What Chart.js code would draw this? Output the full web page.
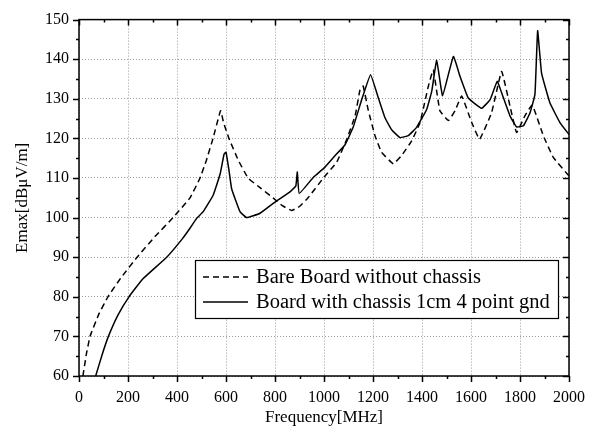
<!DOCTYPE html>
<html>
<head>
<meta charset="utf-8">
<script src="https://cdn.jsdelivr.net/npm/chart.js@4/dist/chart.umd.min.js"></script>
<style>
  html, body { margin: 0; padding: 0; background: #fff; }
  #wrap { width: 597px; height: 432px; }
</style>
</head>
<body>
<div id="wrap"><canvas id="chart" width="597" height="432"></canvas></div>
<script>
// Bare board without chassis (dashed)
const bareFreq = [16, 30, 45, 80, 118, 170, 237, 310, 384, 453, 494, 520, 547, 578, 590, 612, 650, 690, 740, 792, 830, 868, 900, 935, 1000, 1052, 1093, 1127, 1147, 1160, 1180, 1208, 1235, 1283, 1317, 1358, 1392, 1426, 1446, 1473, 1508, 1535, 1562, 1603, 1635, 1684, 1725, 1759, 1786, 1820, 1850, 1895, 1936, 2000];
const bareVals = [60, 65.5, 70, 75.5, 80, 84.7, 90, 95.2, 100, 105, 110, 114.5, 120, 127, 124, 120, 114.5, 110, 107.5, 105, 103, 101.8, 102.8, 105, 110.2, 114, 119.8, 125.7, 132.3, 133.2, 127.3, 120.7, 116.5, 113.6, 115.7, 119.4, 124, 133.2, 137.3, 127, 124.5, 127, 130.7, 124, 119.8, 126.5, 136.9, 128.2, 121.5, 125.7, 128.4, 120.7, 115.2, 110.5];

// Board with chassis 1cm 4 point gnd (solid)
const chassisFreq = [68, 95, 120, 160, 204, 260, 358, 420, 453, 480, 507, 548, 576, 592, 600, 612, 623, 657, 684, 739, 793, 861, 885, 891, 899, 957, 1000, 1040, 1086, 1120, 1154, 1190, 1222, 1249, 1276, 1310, 1344, 1378, 1419, 1440, 1460, 1484, 1528, 1555, 1589, 1643, 1678, 1707, 1725, 1759, 1786, 1814, 1841, 1861, 1872, 1888, 1922, 1963, 2000];
const chassisVals = [60, 65.5, 70, 75.5, 80, 84.5, 90, 94.5, 97.3, 99.8, 101.5, 105.7, 111, 116, 116.5, 112, 107.3, 101.5, 100, 101.1, 103.6, 106.5, 108, 111.5, 106.1, 110.2, 112.5, 115.3, 118.4, 123, 129.8, 136.1, 130.2, 125.2, 122.2, 120.2, 120.7, 122.8, 127.3, 132, 139.7, 130.8, 140.7, 135.7, 130.2, 127.6, 129.8, 134.4, 131.5, 125.7, 122.9, 123.2, 126.5, 131.1, 147.2, 136.5, 129, 124, 121];

const seriesLabels = ['Bare Board without chassis', 'Board with chassis 1cm 4 point gnd'];
const xTitle = 'Frequency[MHz]';
const yTitle = 'Emax[dBμV/m]';

const FONT = '"Liberation Serif", "Times New Roman", serif';

const toPoints = (xs, ys) => xs.map((x, i) => ({ x: x, y: ys[i] }));

// frame + ticks: left/bottom point outward, top/right point inward
const framePlugin = {
  id: 'frame',
  afterDraw(chart) {
    const { ctx, chartArea: a, scales } = chart;
    const xs = scales.x, ys = scales.y;
    ctx.save();
    ctx.strokeStyle = '#000';
    ctx.lineWidth = 1.5;
    ctx.strokeRect(a.left, a.top, a.right - a.left, a.bottom - a.top);
    ctx.beginPath();
    for (let v = 0; v <= 2000; v += 100) {
      const px = Math.round(xs.getPixelForValue(v)) + 0.5;
      const len = v % 200 === 0 ? 6 : 3;
      ctx.moveTo(px, a.bottom); ctx.lineTo(px, a.bottom + len);
      ctx.moveTo(px, a.top); ctx.lineTo(px, a.top + len);
    }
    for (let v = 60; v <= 150; v += 5) {
      const py = Math.round(ys.getPixelForValue(v)) + 0.5;
      const len = v % 10 === 0 ? 6 : 3;
      ctx.moveTo(a.left, py); ctx.lineTo(a.left - len, py);
      ctx.moveTo(a.right, py); ctx.lineTo(a.right - len, py);
    }
    ctx.stroke();

    // legend box
    const bx = 195, by = 260, bw = 363, bh = 58;
    ctx.fillStyle = '#fff';
    ctx.fillRect(bx, by, bw, bh);
    ctx.lineWidth = 1.2;
    ctx.strokeRect(bx + 0.5, by + 0.5, bw, bh);
    ctx.font = '20.5px ' + FONT;
    ctx.textBaseline = 'middle';
    ctx.fillStyle = '#000';
    chart.data.datasets.forEach((ds, i) => {
      const cy = by + 17 + i * 25;
      ctx.beginPath();
      ctx.lineWidth = 1.5;
      ctx.setLineDash(ds.borderDash || []);
      ctx.moveTo(bx + 8, cy); ctx.lineTo(bx + 53, cy);
      ctx.stroke();
      ctx.setLineDash([]);
      ctx.fillText(ds.label, bx + 61, cy + 1);
    });
    ctx.restore();
  }
};

new Chart(document.getElementById('chart'), {
  type: 'line',
  data: {
    datasets: [
      { label: seriesLabels[0], data: toPoints(bareFreq, bareVals), borderColor: '#000', borderWidth: 1.5, borderDash: [6, 4], pointRadius: 0, tension: 0.1, fill: false },
      { label: seriesLabels[1], data: toPoints(chassisFreq, chassisVals), borderColor: '#000', borderWidth: 1.5, pointRadius: 0, tension: 0.1, fill: false }
    ]
  },
  options: {
    responsive: false,
    animation: false,
    layout: { padding: { left: 0, top: 16, right: 28, bottom: 0 } },
    plugins: { legend: { display: false }, tooltip: { enabled: false } },
    scales: {
      x: {
        type: 'linear', min: 0, max: 2000,
        afterFit: s => { s.height = 56; },
        ticks: { stepSize: 200, color: '#000', padding: 12, maxRotation: 0, font: { family: FONT, size: 16 }, callback: v => String(v) },
        grid: { color: '#999', lineWidth: 1, drawTicks: false },
        border: { display: false, dash: [1, 2] },
        title: { display: true, text: xTitle, color: '#000', font: { family: FONT, size: 17 }, padding: { top: 0, bottom: 4 } }
      },
      y: {
        min: 60, max: 150,
        afterFit: s => { s.width = 79; },
        ticks: { stepSize: 10, color: '#000', padding: 10, font: { family: FONT, size: 16 }, callback: v => String(v) },
        grid: { color: '#999', lineWidth: 1, drawTicks: false },
        border: { display: false, dash: [1, 2] },
        title: { display: true, text: yTitle, color: '#000', font: { family: FONT, size: 17 }, padding: { top: 12, bottom: 0 } }
      }
    }
  },
  plugins: [framePlugin]
});
</script>
</body>
</html>
